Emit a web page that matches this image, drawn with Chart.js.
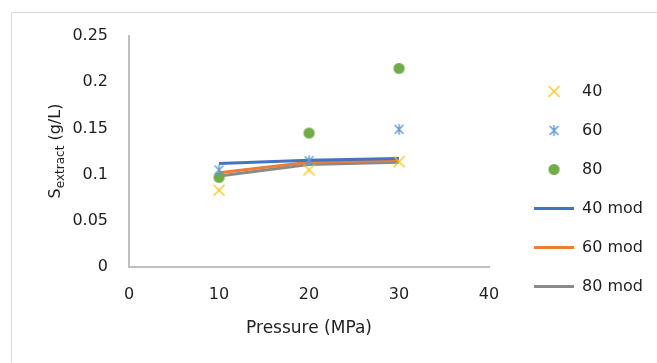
<!DOCTYPE html>
<html>
<head>
<meta charset="utf-8">
<script src="https://cdn.jsdelivr.net/npm/chart.js@4/dist/chart.umd.min.js"></script>
<style>
  html, body { margin: 0; padding: 0; background: #ffffff; }
  #wrap { width: 657px; height: 363px; position: relative; }
</style>
</head>
<body>
<div id="wrap"><canvas id="c"></canvas></div>
<script>
// ---- data ----
const pressures = [10, 20, 30];
const s40 = [0.083, 0.105, 0.114];
const s60 = [0.105, 0.115, 0.149];
const s80 = [0.097, 0.145, 0.215];
const s40mod = [0.112, 0.1155, 0.1175];
const s60mod = [0.102, 0.1135, 0.1155];
const s80mod = [0.0985, 0.111, 0.1135];
const seriesLabels = ['40', '60', '80', '40 mod', '60 mod', '80 mod'];
const xTicks = [0, 10, 20, 30, 40];
const yTicks = [0, 0.05, 0.1, 0.15, 0.2, 0.25];
const yTickLabels = ['0', '0.05', '0.1', '0.15', '0.2', '0.25'];
const xTitle = 'Pressure (MPa)';
const yTitleParts = ['S', 'extract', ' (g/L)'];

// ---- marker images (drawn by Chart.js at scale positions) ----
function markerCanvas(kind, color) {
  const c = document.createElement('canvas');
  const size = 13;
  c.width = size; c.height = size;
  const g = c.getContext('2d');
  g.strokeStyle = color; g.fillStyle = color; g.lineWidth = 1.2;
  const m = size / 2, r = 5.5;
  g.beginPath();
  if (kind === 'x') {
    g.moveTo(m - r, m - r); g.lineTo(m + r, m + r);
    g.moveTo(m + r, m - r); g.lineTo(m - r, m + r);
    g.stroke();
  } else if (kind === 'star') {
    g.lineWidth = 1.4;
    g.moveTo(m, m - r); g.lineTo(m, m + r);
    const d = r * 0.8;
    g.moveTo(m - d, m - d); g.lineTo(m + d, m + d);
    g.moveTo(m + d, m - d); g.lineTo(m - d, m + d);
    g.stroke();
  } else {
    g.arc(m, m, 5.6, 0, Math.PI * 2);
    g.fill();
  }
  return c;
}

const xs = (vals) => pressures.map((p, i) => ({ x: p, y: vals[i] }));
const mkX = markerCanvas('x', '#FFC000');
const mkStar = markerCanvas('star', '#5B9BD5');
const mkDot = markerCanvas('dot', '#70AD47');

const datasets = [
  { label: seriesLabels[0], data: xs(s40), showLine: false, pointStyle: mkX, pointRadius: 5, borderColor: '#FFC000', backgroundColor: '#FFC000', yAxisID: 'y', xAxisID: 'x' },
  { label: seriesLabels[1], data: xs(s60), showLine: false, pointStyle: mkStar, pointRadius: 5, borderColor: '#5B9BD5', backgroundColor: '#5B9BD5', yAxisID: 'y', xAxisID: 'x' },
  { label: seriesLabels[2], data: xs(s80), showLine: false, pointStyle: mkDot, pointRadius: 5, borderColor: '#70AD47', backgroundColor: '#70AD47', yAxisID: 'y', xAxisID: 'x' },
  { label: seriesLabels[3], data: xs(s40mod), showLine: true, pointRadius: 0, borderWidth: 3, borderColor: '#4472C4', backgroundColor: '#4472C4', isModel: true, yAxisID: 'y', xAxisID: 'x' },
  { label: seriesLabels[4], data: xs(s60mod), showLine: true, pointRadius: 0, borderWidth: 3, borderColor: '#ED7D31', backgroundColor: '#ED7D31', isModel: true, yAxisID: 'y', xAxisID: 'x' },
  { label: seriesLabels[5], data: xs(s80mod), showLine: true, pointRadius: 0, borderWidth: 3, borderColor: '#8A8A8A', backgroundColor: '#8A8A8A', isModel: true, yAxisID: 'y', xAxisID: 'x' }
];

const textColor = '#1f1f1f';
const fam = '"DejaVu Sans", sans-serif';

const framePlugin = {
  id: 'frame',
  beforeDraw(chart) {
    const ctx = chart.ctx;
    ctx.save();
    ctx.fillStyle = '#ffffff';
    ctx.fillRect(0, 0, chart.width, chart.height);
    ctx.strokeStyle = '#D9D9D9';
    ctx.lineWidth = 1;
    ctx.strokeRect(11.5, 12.5, 1000, 1000);
    ctx.restore();
  }
};

const yTitlePlugin = {
  id: 'ytitle',
  afterDraw(chart) {
    const ctx = chart.ctx;
    const mainFont = '16px ' + fam, subFont = '12px ' + fam;
    ctx.save();
    ctx.fillStyle = textColor;
    ctx.textBaseline = 'alphabetic';
    ctx.textAlign = 'left';
    ctx.font = mainFont; const w1 = ctx.measureText(yTitleParts[0]).width;
    ctx.font = subFont; const w2 = ctx.measureText(yTitleParts[1]).width;
    ctx.font = mainFont; const w3 = ctx.measureText(yTitleParts[2]).width;
    const total = w1 + w2 + w3;
    ctx.translate(60, 151);
    ctx.rotate(-Math.PI / 2);
    let x0 = -total / 2;
    ctx.font = mainFont; ctx.fillText(yTitleParts[0], x0, 0);
    ctx.font = subFont; ctx.fillText(yTitleParts[1], x0 + w1, 3.5);
    ctx.font = mainFont; ctx.fillText(yTitleParts[2], x0 + w1 + w2, 0);
    ctx.restore();
  }
};

new Chart(document.getElementById('c'), {
  type: 'scatter',
  data: { datasets },
  plugins: [framePlugin, yTitlePlugin],
  options: {
    responsive: true,
    maintainAspectRatio: false,
    animation: false,
    layout: { padding: { top: 36, bottom: 21, left: 0, right: 4 } },
    plugins: {
      tooltip: { enabled: false },
      legend: {
        position: 'right',
        align: 'center',
        maxWidth: 142,
        labels: {
          usePointStyle: true,
          pointStyleWidth: 40,
          boxHeight: 10,
          padding: 23,
          color: textColor,
          font: { family: fam, size: 16 },
          generateLabels: (chart) => chart.data.datasets.map((ds, i) => ({
            text: ds.label,
            datasetIndex: i,
            hidden: false,
            fillStyle: ds.borderColor,
            strokeStyle: ds.borderColor,
            lineWidth: ds.isModel ? 3 : 0,
            pointStyle: ds.isModel ? 'line' : ds.pointStyle,
            fontColor: textColor
          }))
        }
      }
    },
    scales: {
      x: {
        type: 'linear',
        position: 'bottom',
        min: 0, max: 40,
        grid: { display: false, drawTicks: false, tickLength: 0 },
        border: { display: true, color: '#BFBFBF', width: 2 },
        afterBuildTicks: (s) => { s.ticks = xTicks.map(v => ({ value: v })); },
        ticks: { padding: 18, color: textColor, font: { family: fam, size: 16 }, maxRotation: 0, callback: (v) => String(v) },
        title: { display: true, text: xTitle, color: textColor, font: { family: fam, size: 17 }, padding: { top: 0, bottom: 3 } },
        afterFit: (s) => { s.height = 75; s.paddingLeft = 0; s.paddingRight = 0; }
      },
      y: {
        type: 'linear',
        position: 'left',
        min: 0, max: 0.25,
        grid: { display: false, drawTicks: false, tickLength: 0 },
        border: { display: true, color: '#BFBFBF', width: 2 },
        afterBuildTicks: (s) => { s.ticks = yTicks.map(v => ({ value: v })); },
        ticks: { padding: 21, color: textColor, font: { family: fam, size: 16 }, callback: (v, i) => yTickLabels[i] },
        afterFit: (s) => { s.width = 129; s.paddingTop = 0; s.paddingBottom = 0; }
      },
      gap: {
        type: 'linear',
        position: 'right',
        display: true,
        grid: { display: false, drawTicks: false, tickLength: 0 },
        border: { display: false },
        ticks: { display: false },
        afterFit: (s) => { s.width = 22; }
      }
    }
  }
});
</script>
</body>
</html>
